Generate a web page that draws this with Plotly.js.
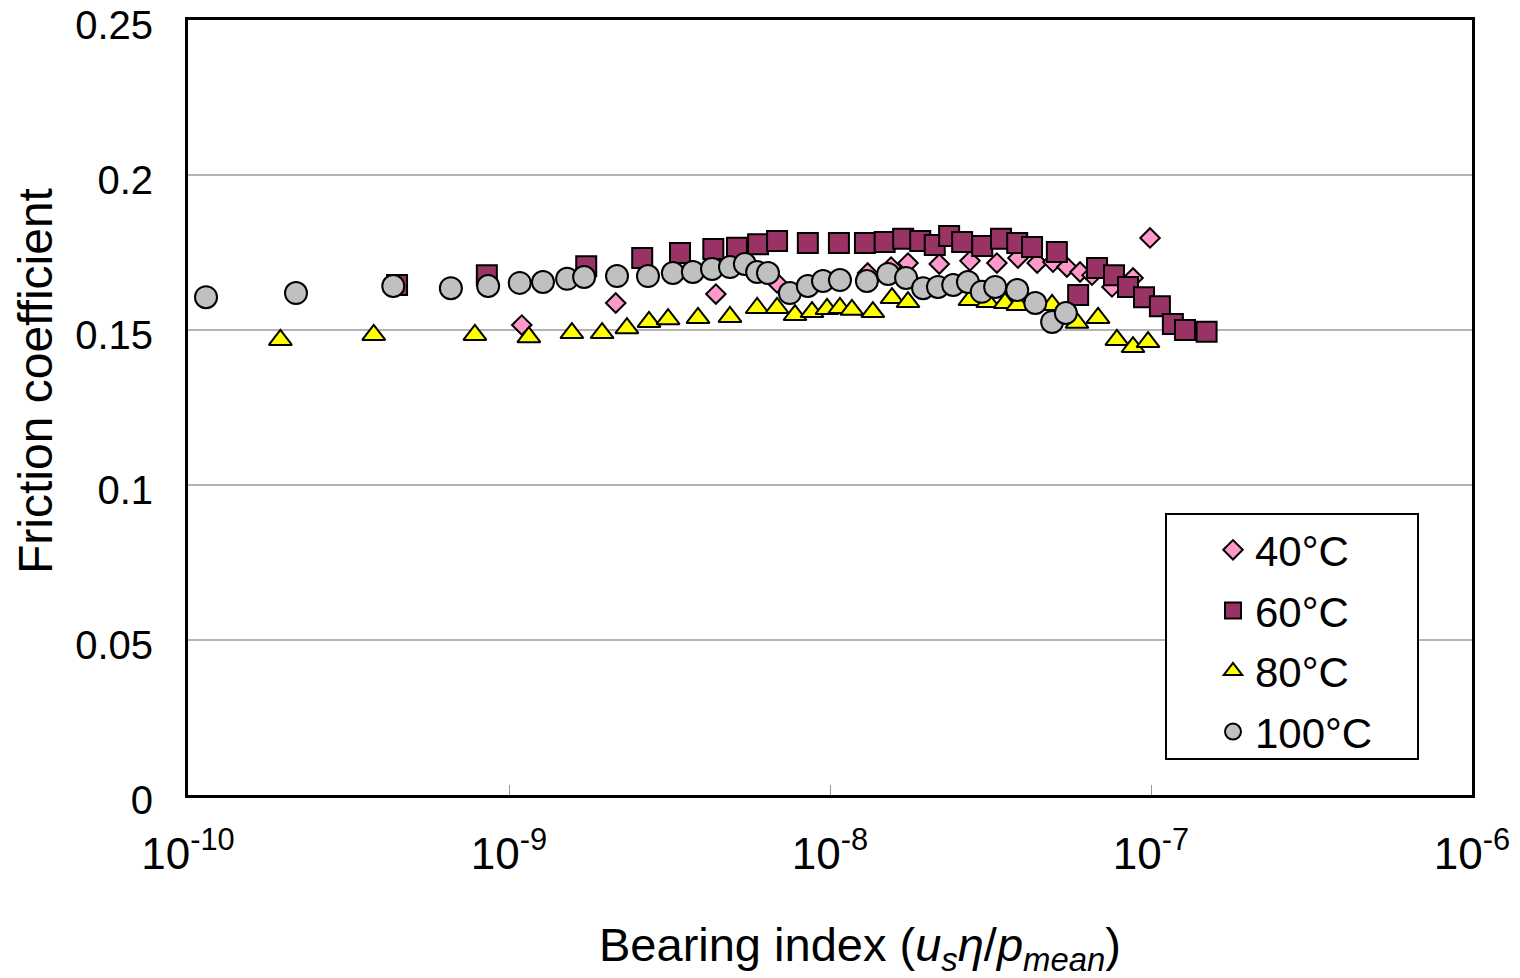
<!DOCTYPE html>
<html>
<head>
<meta charset="utf-8">
<script src="https://cdn.plot.ly/plotly-3.0.1.min.js"></script>
<style>html,body{margin:0;padding:0;background:#fff;}#chart{width:1520px;height:978px;}</style>
</head>
<body>
<div id="chart"></div>
<script>
// 40°C
const x40 = [1.096e-9, 2.15e-9, 4.41e-9, 6.84e-9, 1.31e-8, 1.55e-8, 1.75e-8, 2.19e-8, 2.73e-8, 3.31e-8, 3.85e-8, 4.42e-8, 4.95e-8, 5.47e-8, 6.01e-8, 6.55e-8, 7.56e-8, 8.79e-8, 9.93e-8];
const y40 = [0.1516, 0.1587, 0.1616, 0.1652, 0.1684, 0.1703, 0.1716, 0.1713, 0.1723, 0.1716, 0.1732, 0.1716, 0.1719, 0.1703, 0.1687, 0.1677, 0.1639, 0.1668, 0.1797];
// 60°C
const x60 = [4.48e-10, 8.53e-10, 1.74e-9, 2.60e-9, 3.41e-9, 4.33e-9, 5.13e-9, 5.97e-9, 6.84e-9, 8.53e-9, 1.066e-8, 1.285e-8, 1.48e-8, 1.69e-8, 1.91e-8, 2.12e-8, 2.35e-8, 2.58e-8, 2.98e-8, 3.41e-8, 3.83e-8, 4.26e-8, 5.09e-8, 5.93e-8, 6.79e-8, 7.67e-8, 8.48e-8, 9.51e-8, 1.066e-7, 1.17e-7, 1.276e-7, 1.49e-7];
const y60 = [0.1645, 0.1677, 0.1706, 0.1732, 0.1748, 0.1761, 0.1765, 0.1777, 0.1787, 0.1781, 0.1781, 0.1781, 0.1784, 0.1794, 0.1787, 0.1774, 0.1803, 0.1784, 0.1771, 0.1794, 0.1781, 0.1768, 0.1752, 0.1613, 0.1700, 0.1677, 0.1639, 0.1606, 0.1577, 0.1519, 0.1500, 0.1494];
// 80°C
const x80 = [1.94e-10, 3.79e-10, 7.83e-10, 1.153e-9, 1.57e-9, 1.95e-9, 2.33e-9, 2.73e-9, 3.13e-9, 3.88e-9, 4.88e-9, 5.93e-9, 6.84e-9, 7.78e-9, 8.79e-9, 9.79e-9, 1.074e-8, 1.17e-8, 1.36e-8, 1.56e-8, 1.75e-8, 2.73e-8, 3.10e-8, 3.51e-8, 3.85e-8, 4.92e-8, 5.88e-8, 6.84e-8, 7.83e-8, 8.79e-8, 9.79e-8];
const y80 = [0.1468, 0.1484, 0.1484, 0.1477, 0.1490, 0.1490, 0.1506, 0.1526, 0.1535, 0.1539, 0.1542, 0.1571, 0.1571, 0.1548, 0.1558, 0.1568, 0.1571, 0.1565, 0.1558, 0.1603, 0.1590, 0.1597, 0.1590, 0.1587, 0.1581, 0.1581, 0.1523, 0.1539, 0.1468, 0.1445, 0.1461];
// 100°C
const x100 = [1.138e-10, 2.17e-10, 4.36e-10, 6.59e-10, 8.61e-10, 1.08e-9, 1.276e-9, 1.517e-9, 1.714e-9, 2.17e-9, 2.71e-9, 3.24e-9, 3.74e-9, 4.29e-9, 4.88e-9, 5.43e-9, 5.93e-9, 6.41e-9, 7.50e-9, 8.53e-9, 9.51e-9, 1.074e-8, 1.303e-8, 1.517e-8, 1.726e-8, 1.95e-8, 2.17e-8, 2.42e-8, 2.69e-8, 2.97e-8, 3.27e-8, 3.83e-8, 4.36e-8, 4.92e-8, 5.43e-8];
const y100 = [0.1606, 0.1619, 0.1642, 0.1635, 0.1642, 0.1652, 0.1655, 0.1665, 0.1671, 0.1674, 0.1674, 0.1684, 0.1687, 0.1697, 0.1703, 0.1713, 0.1687, 0.1684, 0.1619, 0.1642, 0.1658, 0.1661, 0.1658, 0.1681, 0.1668, 0.1635, 0.1639, 0.1645, 0.1655, 0.1623, 0.1639, 0.1629, 0.1587, 0.1526, 0.1555];

const names = ['40°C', '60°C', '80°C', '100°C'];
const xTickVals = [1e-10, 1e-9, 1e-8, 1e-7, 1e-6];
const xTickText = ['10<sup>-10</sup>', '10<sup>-9</sup>', '10<sup>-8</sup>', '10<sup>-7</sup>', '10<sup>-6</sup>'];
const yTickVals = [0, 0.05, 0.1, 0.15, 0.2, 0.25];
const yTickText = ['0', '0.05', '0.1', '0.15', '0.2', '0.25'];

const FONT = 'Liberation Sans, Arial, sans-serif';
function tr(x, y, name, symbol, color, size, g) {
  return {
    x: x, y: y, name: name, type: 'scatter', mode: 'markers',
    legendgroup: g,
    marker: {symbol: symbol, color: color, size: size, line: {color: '#000', width: 2}}
  };
}
const data = [
  tr(x40, y40, names[0], 'diamond', '#FF99CC', 15, 'a'),
  tr(x60, y60, names[1], 'square', '#993366', 20, 'b'),
  tr(x80, y80, names[2], 'triangle-up', '#FFFF00', 20, 'c'),
  tr(x100, y100, names[3], 'circle', '#C0C0C0', 22, 'd')
];
const layout = {
  width: 1520, height: 978,
  margin: {l: 188, r: 48, t: 20, b: 183},
  paper_bgcolor: '#fff', plot_bgcolor: '#fff',
  font: {family: FONT, color: '#000'},
  showlegend: true,
  legend: {
    x: (1211 - 188) / 1284, y: (795 - 516) / 775, xanchor: 'left', yanchor: 'top',
    bgcolor: 'rgba(0,0,0,0)', borderwidth: 0,
    font: {family: FONT, size: 42, color: '#000'},
    tracegroupgap: 3, traceorder: 'grouped',
    itemwidth: 34
  },
  shapes: [
    {type: 'rect', xref: 'paper', yref: 'paper', layer: 'above',
     x0: (1166 - 188) / 1284, x1: (1418 - 188) / 1284,
     y0: (795 - 759) / 775, y1: (795 - 514) / 775,
     fillcolor: '#fff', line: {color: '#000', width: 2}}
  ],
  xaxis: {
    type: 'log', range: [-10, -6],
    tickvals: xTickVals, ticktext: xTickText,
    ticks: 'inside', ticklen: 10, tickcolor: '#999', tickwidth: 1,
    showgrid: false, zeroline: false,
    showline: true, linecolor: '#000', linewidth: 3, mirror: true,
    tickfont: {family: FONT, size: 44, color: '#000'},
    ticklabelstandoff: 18, ticklabeloverflow: 'allow',
    automargin: false
  },
  yaxis: {
    range: [0, 0.25],
    tickvals: yTickVals, ticktext: yTickText,
    ticks: '', showgrid: true, gridcolor: '#b3b3b3', gridwidth: 1.5,
    zeroline: false,
    showline: true, linecolor: '#000', linewidth: 3, mirror: true,
    tickfont: {family: FONT, size: 40, color: '#000'},
    ticklabelstandoff: 24, ticklabelshift: 5, ticklabeloverflow: 'allow',
    automargin: false
  },
  annotations: [
    {text: 'Bearing index (<i>u<sub>s</sub>η</i>/<i>p<sub>mean</sub></i>)', xref: 'paper', yref: 'paper',
     x: (860 - 188) / 1284, y: (795 - 948) / 775, xanchor: 'center', yanchor: 'middle', showarrow: false,
     font: {family: FONT, size: 47, color: '#000'}},
    {text: 'Friction coefficient', xref: 'paper', yref: 'paper', textangle: -90,
     x: (35 - 188) / 1284, y: (795 - 381) / 775, xanchor: 'center', yanchor: 'middle', showarrow: false,
     font: {family: FONT, size: 48, color: '#000'}}
  ]
};
Plotly.newPlot('chart', data, layout, {staticPlot: true, displayModeBar: false});
</script>
</body>
</html>
